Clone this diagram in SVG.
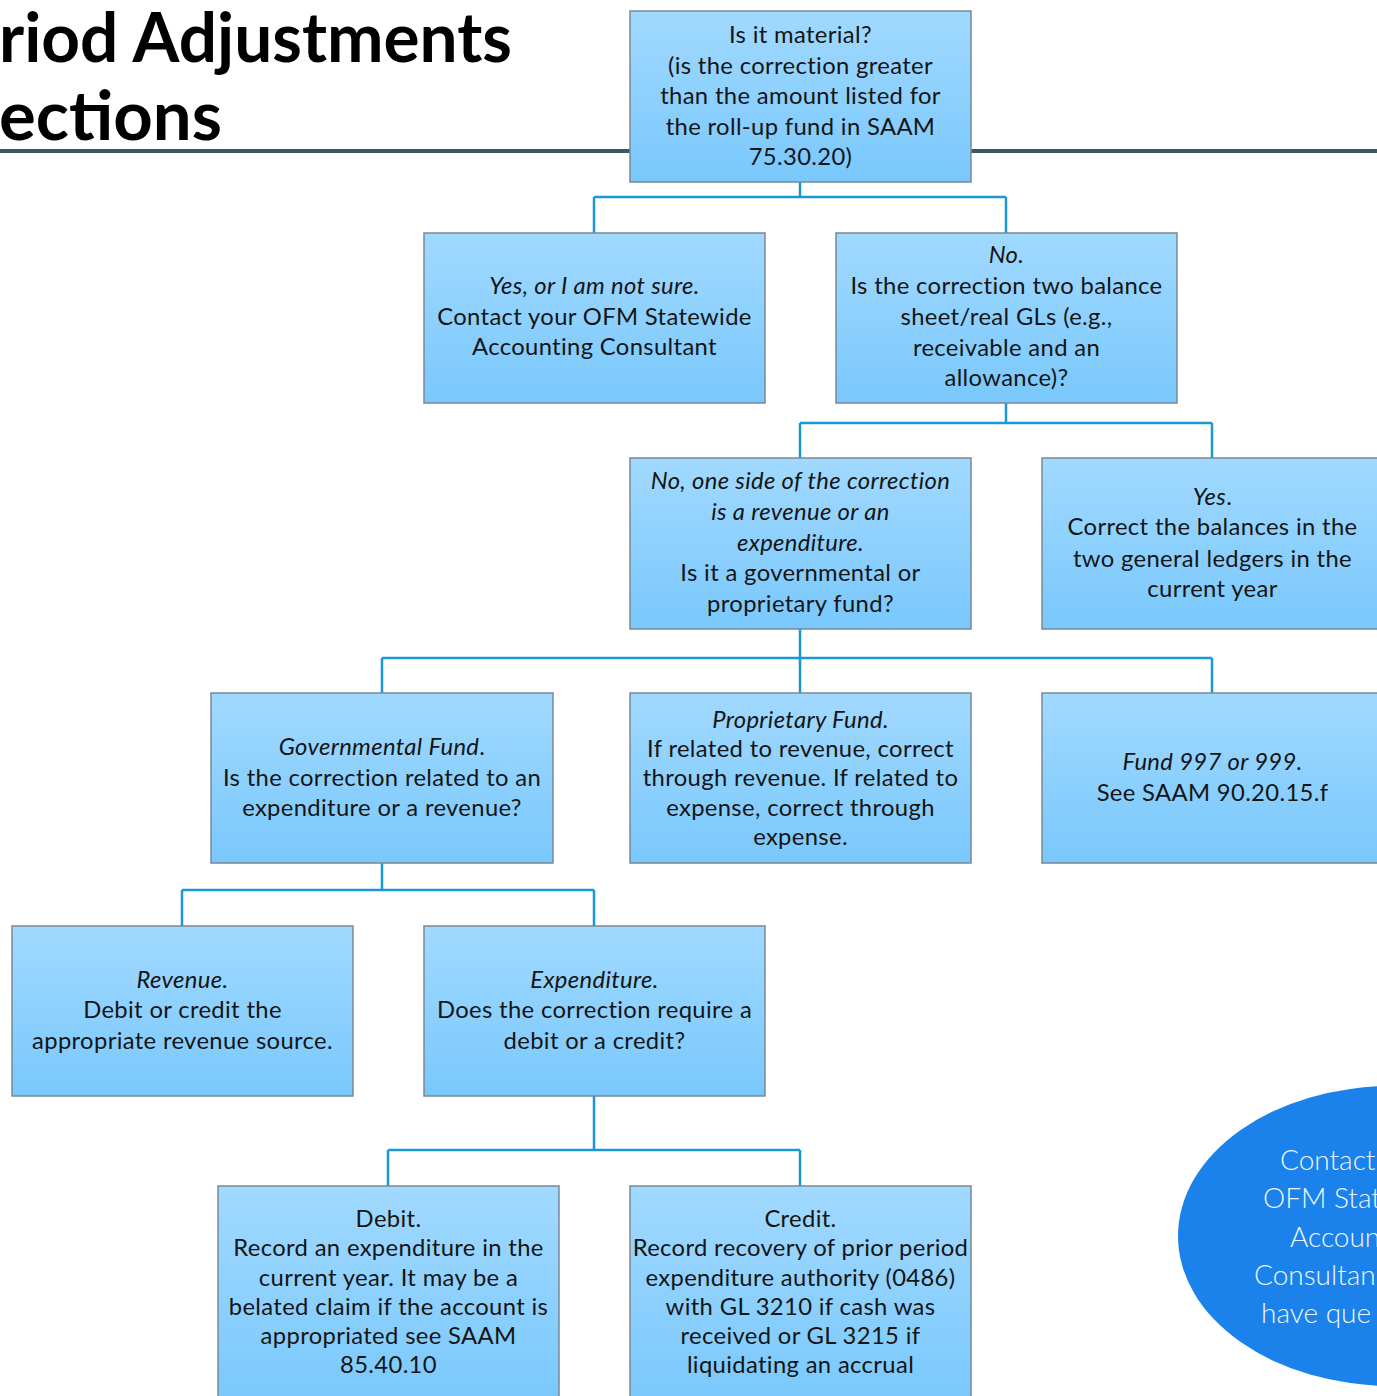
<svg xmlns="http://www.w3.org/2000/svg" width="1377" height="1396" viewBox="0 0 1377 1396">
<defs>
<linearGradient id="g" x1="0" y1="0" x2="0" y2="1">
<stop offset="0" stop-color="#a1d9ff"/>
<stop offset="1" stop-color="#79c8fc"/>
</linearGradient>
</defs>
<style>
.box{fill:url(#g);stroke:#7a8994;stroke-width:1.5}
.t{font-family:Lato,"Open Sans","DejaVu Sans",sans-serif;font-size:23.8px;letter-spacing:0.35px;fill:#151515;text-anchor:middle}
.i{font-style:italic}
.conn{fill:none;stroke:#1a98d5;stroke-width:2.5}
.title{font-family:Lato,"Liberation Sans",sans-serif;font-weight:700;font-size:68px;fill:#000}
.et{font-family:Lato,"Open Sans",sans-serif;font-weight:300;font-size:28px;fill:#eef6fd}
</style>
<rect width="1377" height="1396" fill="#ffffff"/>
<g id="title">
<text class="title" x="-1" y="62" textLength="513" lengthAdjust="spacingAndGlyphs">riod Adjustments</text>
<text class="title" x="-1" y="140" textLength="223" lengthAdjust="spacingAndGlyphs">ections</text>
<rect x="0" y="149" width="1377" height="4" fill="#3e5566"/>
</g>
<g id="connectors">
<path class="conn" d="M800 182V197M594 197H1006M594 197V233M1006 197V233"/>
<path class="conn" d="M1006 403V423M800 423H1212M800 423V458M1212 423V458"/>
<path class="conn" d="M800 629V693M382 658H1212M382 658V693M1212 658V693"/>
<path class="conn" d="M382 863V890M182 890H594M182 890V926M594 890V926"/>
<path class="conn" d="M594 1096V1150M388 1150H800M388 1150V1186M800 1150V1186"/>
</g>
<g id="n1">
<rect class="box" x="630" y="11" width="341" height="171"/>
<text class="t"><tspan x="800.5" y="43">Is it material?</tspan><tspan x="800.5" y="73.5">(is the correction greater</tspan><tspan x="800.5" y="104">than the amount listed for</tspan><tspan x="800.5" y="134.5">the roll-up fund in SAAM</tspan><tspan x="800.5" y="165">75.30.20)</tspan></text>
</g>
<g id="n2">
<rect class="box" x="424" y="233" width="341" height="170"/>
<text class="t"><tspan class="i" x="594.5" y="294">Yes, or I am not sure.</tspan><tspan x="594.5" y="325">Contact your OFM Statewide</tspan><tspan x="594.5" y="355">Accounting Consultant</tspan></text>
</g>
<g id="n3">
<rect class="box" x="836" y="233" width="341" height="170"/>
<text class="t"><tspan class="i" x="1006.5" y="263">No.</tspan><tspan x="1006.5" y="294">Is the correction two balance</tspan><tspan x="1006.5" y="325">sheet/real GLs (e.g.,</tspan><tspan x="1006.5" y="356">receivable and an</tspan><tspan x="1006.5" y="386">allowance)?</tspan></text>
</g>
<g id="n4">
<rect class="box" x="630" y="458" width="341" height="171"/>
<text class="t"><tspan class="i" x="800.5" y="489">No, one side of the correction</tspan><tspan class="i" x="800.5" y="520">is a revenue or an</tspan><tspan class="i" x="800.5" y="551">expenditure.</tspan><tspan x="800.5" y="581">Is it a governmental or</tspan><tspan x="800.5" y="612">proprietary fund?</tspan></text>
</g>
<g id="n5">
<rect class="box" x="1042" y="458" width="341" height="171"/>
<text class="t"><tspan x="1212.5" y="505"><tspan class="i">Yes</tspan>.</tspan><tspan x="1212.5" y="535">Correct the balances in the</tspan><tspan x="1212.5" y="567">two general ledgers in the</tspan><tspan x="1212.5" y="597">current year</tspan></text>
</g>
<g id="n6">
<rect class="box" x="211" y="693" width="342" height="170"/>
<text class="t"><tspan x="382" y="755"><tspan class="i">Governmental Fund</tspan>.</tspan><tspan x="382" y="786">Is the correction related to an</tspan><tspan x="382" y="816">expenditure or a revenue?</tspan></text>
</g>
<g id="n7">
<rect class="box" x="630" y="693" width="341" height="170"/>
<text class="t"><tspan class="i" x="800.5" y="728">Proprietary Fund.</tspan><tspan x="800.5" y="757">If related to revenue, correct</tspan><tspan x="800.5" y="786">through revenue. If related to</tspan><tspan x="800.5" y="816">expense, correct through</tspan><tspan x="800.5" y="845">expense.</tspan></text>
</g>
<g id="n8">
<rect class="box" x="1042" y="693" width="341" height="170"/>
<text class="t"><tspan class="i" x="1212.5" y="770">Fund 997 or 999.</tspan><tspan x="1212.5" y="801">See SAAM 90.20.15.f</tspan></text>
</g>
<g id="n9">
<rect class="box" x="12" y="926" width="341" height="170"/>
<text class="t"><tspan class="i" x="182.5" y="988">Revenue.</tspan><tspan x="182.5" y="1018">Debit or credit the</tspan><tspan x="182.5" y="1049">appropriate revenue source.</tspan></text>
</g>
<g id="n10">
<rect class="box" x="424" y="926" width="341" height="170"/>
<text class="t"><tspan class="i" x="594.5" y="988">Expenditure.</tspan><tspan x="594.5" y="1018">Does the correction require a</tspan><tspan x="594.5" y="1049">debit or a credit?</tspan></text>
</g>
<g id="n11">
<rect class="box" x="218" y="1186" width="341" height="220"/>
<text class="t"><tspan x="388.5" y="1227">Debit.</tspan><tspan x="388.5" y="1256">Record an expenditure in the</tspan><tspan x="388.5" y="1286">current year. It may be a</tspan><tspan x="388.5" y="1315">belated claim if the account is</tspan><tspan x="388.5" y="1344">appropriated see SAAM</tspan><tspan x="388.5" y="1373">85.40.10</tspan></text>
</g>
<g id="n12">
<rect class="box" x="630" y="1186" width="341" height="220"/>
<text class="t"><tspan x="800.5" y="1227">Credit.</tspan><tspan x="800.5" y="1256">Record recovery of prior period</tspan><tspan x="800.5" y="1286">expenditure authority (0486)</tspan><tspan x="800.5" y="1315">with GL 3210 if cash was</tspan><tspan x="800.5" y="1344">received or GL 3215 if</tspan><tspan x="800.5" y="1373">liquidating an accrual</tspan></text>
</g>
<g id="n13">
<ellipse cx="1392" cy="1236" rx="214" ry="150" fill="#1a82ea"/>
<text class="et"><tspan x="1280" y="1170">Contact</tspan><tspan x="1263" y="1208">OFM Stat</tspan><tspan x="1290" y="1247">Accoun</tspan><tspan x="1254" y="1285">Consultan</tspan><tspan x="1261" y="1323">have que</tspan></text>
</g>
</svg>
